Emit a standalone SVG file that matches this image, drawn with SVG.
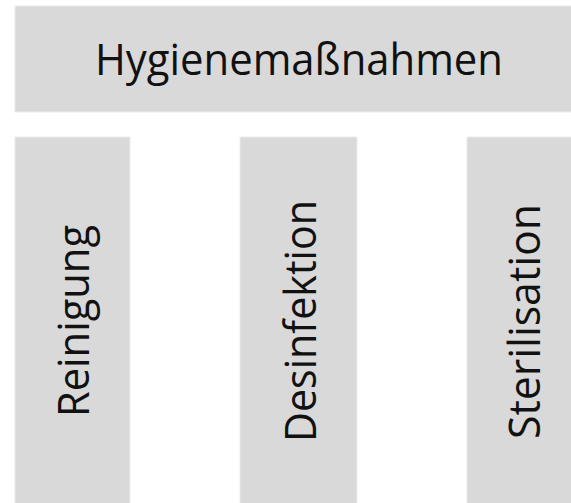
<svg xmlns="http://www.w3.org/2000/svg" width="571" height="503" viewBox="0 0 571 503">
<style>
.box{fill:#d9d9d9;stroke:#ececec;stroke-width:1}
.lbl{font-family:"Open Sans","Noto Sans","Liberation Sans",sans-serif;font-size:43px;fill:#111;text-anchor:middle}
</style>
<rect width="571" height="503" fill="#ffffff"/>
<g id="node-hygiene">
<rect class="box" x="15" y="6" width="568" height="106"/>
<text class="lbl" x="299" y="75" textLength="408" lengthAdjust="spacingAndGlyphs">Hygienemaßnahmen</text>
</g>
<g id="node-reinigung">
<rect class="box" x="15" y="137" width="115" height="370"/>
<text class="lbl" transform="translate(89.3 321) rotate(-90)" x="0" y="0" textLength="192" lengthAdjust="spacingAndGlyphs">Reinigung</text>
</g>
<g id="node-desinfektion">
<rect class="box" x="240" y="137" width="117" height="370"/>
<text class="lbl" transform="translate(315.5 321) rotate(-90)" x="0" y="0" textLength="242" lengthAdjust="spacingAndGlyphs">Desinfektion</text>
</g>
<g id="node-sterilisation">
<rect class="box" x="467" y="137" width="116" height="370"/>
<text class="lbl" transform="translate(540 321.5) rotate(-90)" x="0" y="0" textLength="235" lengthAdjust="spacingAndGlyphs">Sterilisation</text>
</g>
<g id="connectors"></g>
</svg>
